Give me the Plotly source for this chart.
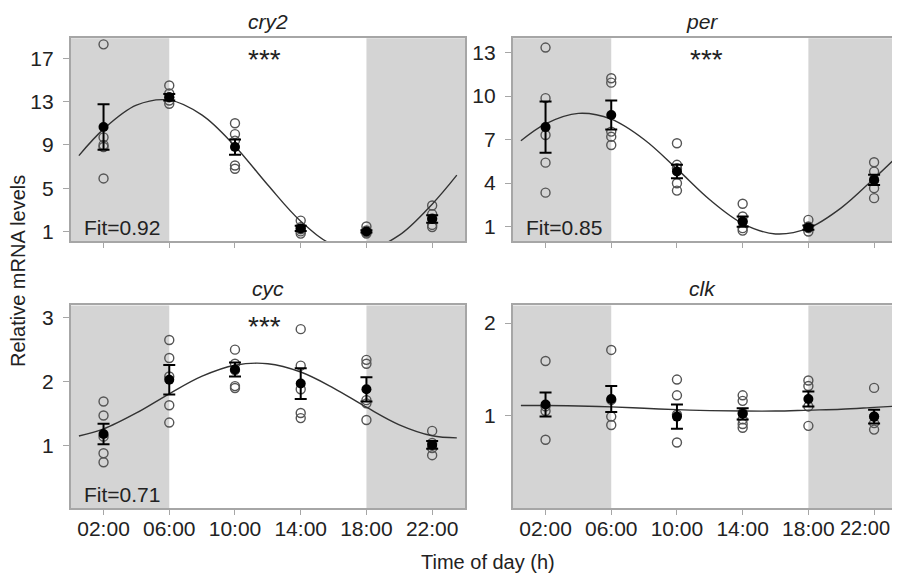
import plotly.graph_objects as go

# ---------------- data ----------------
hours = [2, 6, 10, 14, 18, 22]
tick_text = ["02:00", "06:00", "10:00", "14:00", "18:00", "22:00"]
dark_periods = [(0, 6), (18, 24)]

genes = ["cry2", "per", "cyc", "clk"]
stars = ["***", "***", "***", ""]
fit_labels = ["Fit=0.92", "Fit=0.85", "Fit=0.71", ""]

cry2_points = [[18.3, 9.7, 9.0, 8.8, 5.9], [14.5, 13.75, 13.4, 13.1, 12.8],
               [11.0, 10.0, 9.4, 7.1, 6.8], [2.0, 1.4, 1.2, 1.0, 0.8],
               [1.45, 1.1, 1.0, 0.9, 0.8], [3.4, 2.6, 2.2, 1.6, 1.4]]
cry2_mean = [10.65, 13.4, 8.8, 1.28, 1.0, 2.15]
cry2_se = [2.1, 0.3, 0.7, 0.25, 0.1, 0.35]

per_points = [[13.35, 9.86, 7.32, 5.41, 3.34], [11.23, 10.93, 7.55, 7.2, 6.63],
              [6.75, 5.26, 5.03, 3.99, 3.48], [2.57, 1.69, 1.34, 0.89, 0.72],
              [1.46, 1.0, 0.9, 0.66], [5.44, 4.79, 4.2, 3.65, 2.96]]
per_mean = [7.86, 8.7, 4.8, 1.34, 0.93, 4.22]
per_se = [1.76, 1.0, 0.46, 0.35, 0.15, 0.35]

cyc_points = [[1.69, 1.47, 1.14, 0.88, 0.74], [2.65, 2.37, 2.08, 1.63, 1.36],
              [2.50, 2.28, 2.18, 1.93, 1.90], [2.82, 2.25, 1.88, 1.51, 1.43],
              [2.34, 2.28, 1.71, 1.66, 1.40], [1.23, 1.04, 0.96, 0.85]]
cyc_mean = [1.18, 2.03, 2.19, 1.97, 1.88, 1.01]
cyc_se = [0.16, 0.23, 0.11, 0.24, 0.19, 0.06]

clk_points = [[1.59, 1.10, 1.05, 0.74], [1.71, 1.17, 0.99, 0.90],
              [1.39, 1.22, 1.01, 0.71], [1.22, 1.16, 1.03, 0.96, 0.91, 0.87],
              [1.38, 1.32, 1.10, 0.89], [1.30, 0.99, 0.92, 0.85]]
clk_mean = [1.12, 1.18, 0.99, 1.02, 1.18, 0.99]
clk_se = [0.13, 0.14, 0.13, 0.06, 0.08, 0.075]

fit_hours = [0.5, 2, 4, 6, 8, 10, 12, 14, 16, 18, 20, 22, 23.5]
cry2_fit = [8.01, 10.46, 12.67, 13.14, 11.75, 8.88, 5.29, 1.94, -0.27, -0.74, 0.65, 3.52, 6.2]
per_fit = [6.92, 8.09, 8.81, 8.41, 7.01, 4.98, 2.85, 1.21, 0.49, 0.89, 2.29, 4.32, 5.94]
cyc_fit = [1.15, 1.26, 1.51, 1.81, 2.085, 2.256, 2.28, 2.15, 1.90, 1.60, 1.325, 1.154, 1.121]
clk_fit = [1.11, 1.11, 1.105, 1.095, 1.08, 1.065, 1.055, 1.05, 1.05, 1.06, 1.07, 1.09, 1.105]

y_ticks = [[1, 5, 9, 13, 17], [1, 4, 7, 10, 13], [1, 2, 3], [1, 2]]
y_ranges = [[0.07, 18.86], [-0.03, 13.99], [0.02, 3.19], [0.0, 2.19]]
x_ranges = [[0, 24], [0, 23.09], [0, 24], [0, 23.09]]

points_all = [cry2_points, per_points, cyc_points, clk_points]
mean_all = [cry2_mean, per_mean, cyc_mean, clk_mean]
se_all = [cry2_se, per_se, cyc_se, clk_se]
fit_all = [cry2_fit, per_fit, cyc_fit, clk_fit]

# ---------------- style ----------------
FONT = "Liberation Sans, Arial, sans-serif"
TXT = "#222222"
SHADE = "#d4d4d4"
BORDER = "#a6a6a6"
# the page body has an 8px margin inside the 900x574 window
W, H = 884, 566
x_domains = [[0.0709, 0.5170], [0.5709, 1.0], [0.0709, 0.5170], [0.5709, 1.0]]
y_domains = [[0.5875, 0.9465], [0.5875, 0.9465], [0.1161, 0.4744], [0.1161, 0.4744]]

fig = go.Figure()
layout = dict(width=W, height=H, margin=dict(l=0, r=0, t=0, b=0),
              paper_bgcolor="white", plot_bgcolor="white", showlegend=False,
              font=dict(family=FONT, color=TXT, size=20))
shapes, annotations = [], []

for i in range(4):
    n = "" if i == 0 else str(i + 1)
    xa, ya = "x" + n, "y" + n
    left_col = i in (0, 2)
    bottom_row = i in (2, 3)
    # the last label of the right column sits at the page edge: drawn as annotation
    labels = tick_text if left_col else tick_text[:-1] + [""]
    layout["xaxis" + n] = dict(
        domain=x_domains[i], range=x_ranges[i], anchor=ya,
        tickvals=hours, ticktext=labels, showticklabels=bottom_row,
        ticks="outside", ticklen=5, tickwidth=1.3, tickcolor=BORDER,
        showline=True, linecolor=BORDER, linewidth=1.5, mirror=True,
        showgrid=False, zeroline=False, ticklabelstandoff=-4,
        tickfont=dict(size=21, color=TXT, family=FONT))
    layout["yaxis" + n] = dict(
        domain=y_domains[i], range=y_ranges[i], anchor=xa,
        tickvals=y_ticks[i], ticks="outside", ticklen=6, tickwidth=1.3,
        tickcolor=BORDER, showline=True, linecolor=BORDER, linewidth=1.5,
        mirror=left_col, showgrid=False, zeroline=False,
        ticklabelstandoff=5,
        tickfont=dict(size=21, color=TXT, family=FONT))
    if bottom_row and not left_col:
        annotations.append(dict(text=tick_text[-1], xref=xa + " domain",
                                yref=ya + " domain", x=1, y=0, xanchor="right",
                                yanchor="top", yshift=-7, showarrow=False,
                                font=dict(size=20, color=TXT, family=FONT)))

    for (a, b) in dark_periods:
        shapes.append(dict(type="rect", xref=xa, yref=ya + " domain",
                           x0=a, x1=b, y0=0, y1=1, fillcolor=SHADE,
                           line=dict(width=0), layer="below"))

    # individual replicates
    px, py = [], []
    for h, pts in zip(hours, points_all[i]):
        px += [h] * len(pts)
        py += pts
    fig.add_trace(go.Scatter(
        x=px, y=py, xaxis=xa, yaxis=ya, mode="markers",
        marker=dict(symbol="circle-open", size=9, color="#555555",
                    line=dict(width=1.4, color="#555555"))))
    # fitted curve
    fig.add_trace(go.Scatter(
        x=fit_hours, y=fit_all[i], xaxis=xa, yaxis=ya, mode="lines",
        line=dict(color="#333333", width=1.4, shape="spline")))
    # mean +- se
    fig.add_trace(go.Scatter(
        x=hours, y=mean_all[i], xaxis=xa, yaxis=ya, mode="markers",
        marker=dict(symbol="circle", size=10, color="black"),
        error_y=dict(type="data", array=se_all[i], color="black",
                     thickness=2, width=6)))

    annotations.append(dict(text="<i>%s</i>" % genes[i], xref=xa + " domain",
                            yref=ya + " domain", x=0.5, y=1, yanchor="middle",
                            yshift=17, showarrow=False,
                            font=dict(size=21, color=TXT, family=FONT)))
    if stars[i]:
        annotations.append(dict(text=stars[i], xref=xa, yref=ya + " domain",
                                x=11.8, y=1, yanchor="middle", yshift=-21,
                                showarrow=False,
                                font=dict(size=28, color=TXT, family=FONT)))
    if fit_labels[i]:
        annotations.append(dict(text=fit_labels[i], xref=xa + " domain",
                                yref=ya + " domain", x=0, y=0, xanchor="left",
                                yanchor="middle", xshift=11, yshift=14,
                                showarrow=False,
                                font=dict(size=21, color=TXT, family=FONT)))

annotations.append(dict(text="Relative mRNA levels", xref="paper", yref="paper",
                        x=10.5 / W, y=0.5345, textangle=-90, showarrow=False,
                        xanchor="center", yanchor="middle",
                        font=dict(size=20, color=TXT, family=FONT)))
annotations.append(dict(text="Time of day (h)", xref="paper", yref="paper",
                        x=480 / W, y=0.0217, showarrow=False,
                        xanchor="center", yanchor="middle",
                        font=dict(size=20, color=TXT, family=FONT)))

layout["shapes"] = shapes
layout["annotations"] = annotations
fig.update_layout(**layout)
fig.write_html("out.html")
